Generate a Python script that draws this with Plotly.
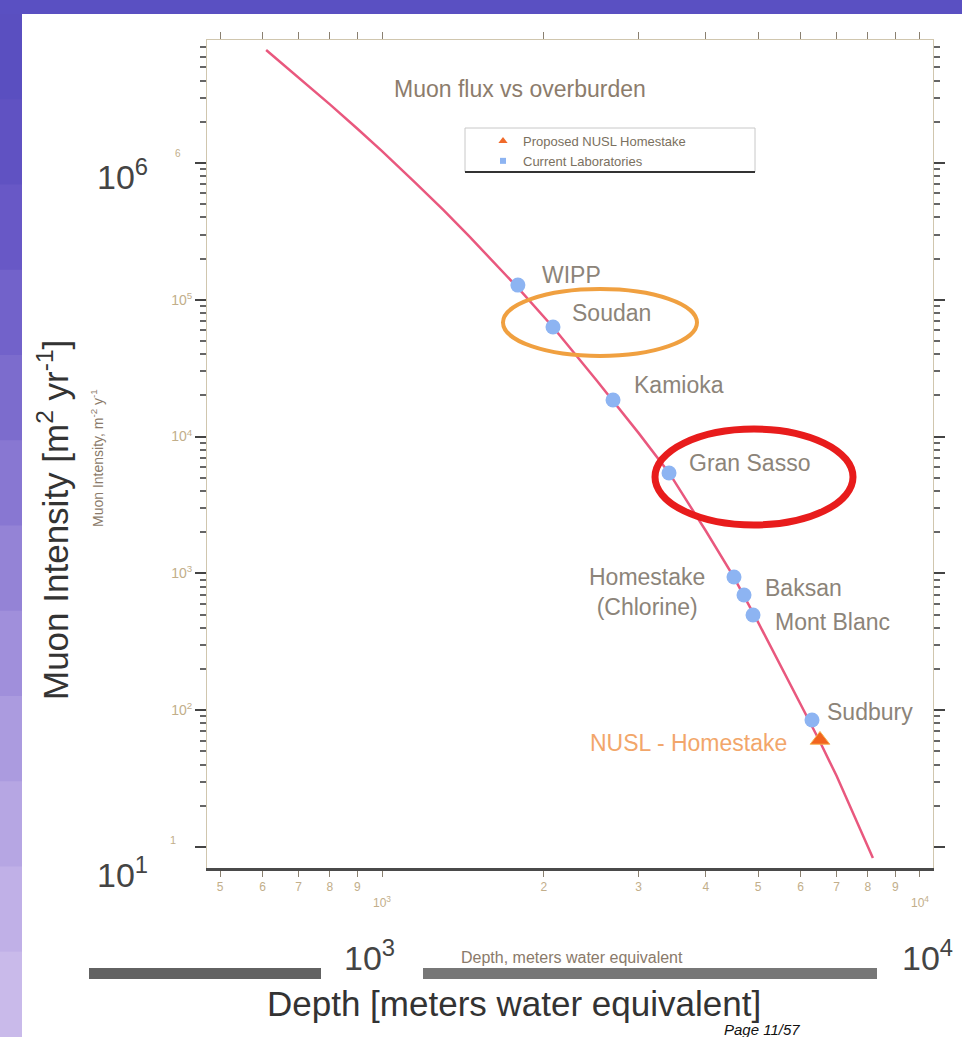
import math
import plotly.graph_objects as go

# ---------------- data ----------------
curve_depth = [609, 700, 800, 900, 1000, 1150, 1300, 1450, 1600, 1790, 2080, 2500, 3000, 3420,
               4000, 4500, 5000, 5500, 6000, 6500, 7000, 7500, 8175]
curve_flux = [6.7e6, 4.21e6, 2.68e6, 1.78e6, 1.22e6, 7.24e5, 4.54e5, 2.93e5, 1.95e5, 1.22e5,
              6.3e4, 2.6e4, 1.06e4, 5.4e3, 2.04e3, 950, 440, 215, 112, 60, 33, 18, 8.3]

lab_names = ["WIPP", "Soudan", "Kamioka", "Gran Sasso", "Homestake<br>(Chlorine)",
             "Baksan", "Mont Blanc", "Sudbury"]
lab_depth = [1789, 2079, 2688, 3416, 4511, 4709, 4894, 6299]
lab_flux = [1.28e5, 6.33e4, 1.85e4, 5.42e3, 942, 695, 497, 84.7]

nusl_name = "NUSL - Homestake"
nusl_depth = [6518]
nusl_flux = [60.6]

x_tickvals = [500, 600, 700, 800, 900, 1000, 2000, 3000, 4000, 5000, 6000, 7000, 8000, 9000, 10000]
x_ticktext = ["5", "6", "7", "8", "9", "<br>10<sup>3</sup>", "2", "3", "4", "5", "6", "7", "8", "9",
              "<br>10<sup>4</sup>"]
y_tickvals = [1e1, 1e2, 1e3, 1e4, 1e5, 1e6]
y_ticktext = [" ", "10<sup>2</sup>", "10<sup>3</sup>", "10<sup>4</sup>", "10<sup>5</sup>", " "]
y_minor = [m * 10 ** k for k in range(1, 7) for m in range(2, 10)]

# ---------------- layout geometry (pixels) ----------------
W, H = 962, 1037
L, R, T, B = 207, 933, 40, 868
FONT = "Liberation Sans, Arial, sans-serif"


def px(x):
    return (x - L) / (R - L)


def py(y):
    return (B - y) / (B - T)


fig = go.Figure()

fig.add_trace(go.Scatter(x=curve_depth, y=curve_flux, mode="lines",
                         line=dict(color="#e9587e", width=2.5),
                         showlegend=False, hoverinfo="skip"))
fig.add_trace(go.Scatter(x=lab_depth, y=lab_flux, mode="markers",
                         marker=dict(size=15, color="#8db4f2"),
                         showlegend=False, text=lab_names))
fig.add_trace(go.Scatter(x=nusl_depth, y=nusl_flux, mode="markers",
                         marker=dict(symbol="triangle-up", size=17, color="#f2641e",
                                     line=dict(color="#f5b050", width=1)),
                         showlegend=False))
# legend entries
fig.add_trace(go.Scatter(x=[None], y=[None], mode="markers", name="Proposed NUSL Homestake",
                         marker=dict(symbol="triangle-up", size=8, color="#f06a2a")))
fig.add_trace(go.Scatter(x=[None], y=[None], mode="markers", name="Current Laboratories",
                         marker=dict(symbol="square", size=6, color="#8db4f2")))
# top axis carrier
fig.add_trace(go.Scatter(x=[1000], y=[None], xaxis="x2", mode="markers",
                         showlegend=False, hoverinfo="skip"))

xr = [2.6747, 4.0242]
yr = [0.8465, 6.899]

fig.update_layout(
    width=W, height=H,
    margin=dict(l=L, r=W - R, t=T, b=H - B, pad=0),
    paper_bgcolor="white", plot_bgcolor="white",
    font=dict(family=FONT),
    xaxis=dict(type="log", range=xr, tickmode="array", tickvals=x_tickvals, ticktext=x_ticktext,
               ticks="outside", ticklen=6, tickcolor="#8a8070", tickwidth=1,
               tickfont=dict(size=12, color="#c2ae8a", family=FONT),
               showline=True, linecolor="#4a4a4a", linewidth=3, mirror=False,
               showgrid=False, zeroline=False),
    xaxis2=dict(type="log", range=xr, overlaying="x", side="top", tickmode="array",
                tickvals=x_tickvals, showticklabels=False, ticks="outside", ticklen=7,
                tickcolor="#8a8070", showline=True, linecolor="#d0c6ae", linewidth=1,
                showgrid=False, zeroline=False),
    yaxis=dict(type="log", range=yr, tickmode="array", tickvals=y_tickvals, ticktext=y_ticktext,
               ticks="outside", ticklen=11, tickcolor="#444", tickwidth=1.5,
               minor=dict(tickvals=y_minor, ticks="outside", ticklen=6, tickcolor="#666"),
               tickfont=dict(size=14, color="#c2ae8a", family=FONT),
               showline=True, linecolor="#d0c6ae", linewidth=1, mirror="ticks",
               showgrid=False, zeroline=False),
    legend=dict(x=px(483), y=py(126), xanchor="left", yanchor="top",
                font=dict(size=13, color="#7a7060", family=FONT),
                bgcolor="rgba(0,0,0,0)", borderwidth=0, itemwidth=30,
                tracegroupgap=0, traceorder="normal"),
    showlegend=True,
)

shapes = []
# slide background: top purple band
shapes.append(dict(type="rect", xref="paper", yref="paper", x0=px(0), x1=px(W), y0=py(14), y1=py(0),
                   fillcolor="#5a50c2", line=dict(width=0), layer="above"))
# left gradient band
band_colors = ["#5a4fc0", "#6052c2", "#6858c6", "#7262ca", "#7c6ccd", "#8877d2",
               "#9483d6", "#a08fdb", "#ab9bdf", "#b6a6e3", "#c0b0e7", "#c9baea"]
n = len(band_colors)
for i, c in enumerate(band_colors):
    y0 = 14 + (H - 14) * i / n
    y1 = 14 + (H - 14) * (i + 1) / n + 1
    shapes.append(dict(type="rect", xref="paper", yref="paper", x0=px(0), x1=px(22),
                       y0=py(y1), y1=py(y0), fillcolor=c, line=dict(width=0)))
# legend frame
shapes.append(dict(type="rect", xref="paper", yref="paper", x0=px(465), x1=px(755),
                   y0=py(172), y1=py(128), line=dict(color="#c8c8c8", width=1)))
shapes.append(dict(type="line", xref="paper", yref="paper", x0=px(465), x1=px(755),
                   y0=py(172), y1=py(172), line=dict(color="#333", width=2)))
# highlight ellipses
shapes.append(dict(type="circle", xref="paper", yref="paper", x0=px(503), x1=px(697),
                   y0=py(356), y1=py(289), line=dict(color="#f0a040", width=4)))
shapes.append(dict(type="circle", xref="paper", yref="paper", x0=px(655), x1=px(853),
                   y0=py(525), y1=py(429), line=dict(color="#e81c1c", width=7)))
# grey bars under the axis
shapes.append(dict(type="rect", xref="paper", yref="paper", x0=px(89), x1=px(321),
                   y0=py(979), y1=py(968), fillcolor="#626262", line=dict(width=0)))
shapes.append(dict(type="rect", xref="paper", yref="paper", x0=px(423), x1=px(877),
                   y0=py(979), y1=py(968), fillcolor="#777777", line=dict(width=0)))
fig.update_layout(shapes=shapes)

ann = []
label_color = "#8c8479"
# (xshift, yshift, anchor) per label, in pixels
label_offsets = [(22, 10, "left"), (17, 14, "left"), (19, 15, "left"), (18, 10, "left"),
                 (-27, -15, "right"), (19, 7, "left"), (20, -7, "left"), (13, 8, "left")]
for name, d, f, (dx, dy, anc) in zip(lab_names, lab_depth, lab_flux, label_offsets):
    ann.append(dict(x=math.log10(d), y=math.log10(f), xref="x", yref="y", text=name,
                    showarrow=False, xanchor=anc, yanchor="middle", xshift=dx, yshift=dy,
                    align="center", font=dict(size=23, color=label_color, family=FONT)))
ann.append(dict(x=math.log10(nusl_depth[0]), y=math.log10(nusl_flux[0]), xref="x", yref="y",
                text=nusl_name, showarrow=False, xanchor="right", yanchor="middle",
                xshift=-31, yshift=-3, font=dict(size=23, color="#f2a66a", family=FONT)))


def text(x, y, s, size, color, xanchor="center", yanchor="middle", angle=0):
    ann.append(dict(x=px(x), y=py(y), xref="paper", yref="paper", text=s, showarrow=False,
                    xanchor=xanchor, yanchor=yanchor, textangle=angle,
                    font=dict(size=size, color=color, family=FONT)))


text(520, 89, "Muon flux vs overburden", 23, "#8c7c6c")
text(572, 957, "Depth, meters water equivalent", 16, "#8a7a6a")
text(97, 458, "Muon Intensity, m<sup>-2</sup> y<sup>-1</sup>", 14, "#8a7a6a", angle=-90)
text(178, 153, "6", 10, "#c2ae8a")
text(173, 840, "1", 11, "#c2ae8a")
# slide overlay labels
text(95, 174, "10<sup>6</sup>", 34, "#444444", xanchor="left")
text(95, 872, "10<sup>1</sup>", 34, "#444444", xanchor="left")
text(342, 955, "10<sup>3</sup>", 34, "#444444", xanchor="left")
text(900, 955, "10<sup>4</sup>", 34, "#444444", xanchor="left")
text(53, 520, "Muon Intensity [m<sup>2</sup> yr<sup>-1</sup>]", 35, "#333333", angle=-90)
text(514, 1003, "Depth [meters water equivalent]", 35, "#333333")
text(722, 1029, "<i>Page 11/57</i>", 15, "#111111", xanchor="left")
fig.update_layout(annotations=ann)

fig.write_html("out.html")
